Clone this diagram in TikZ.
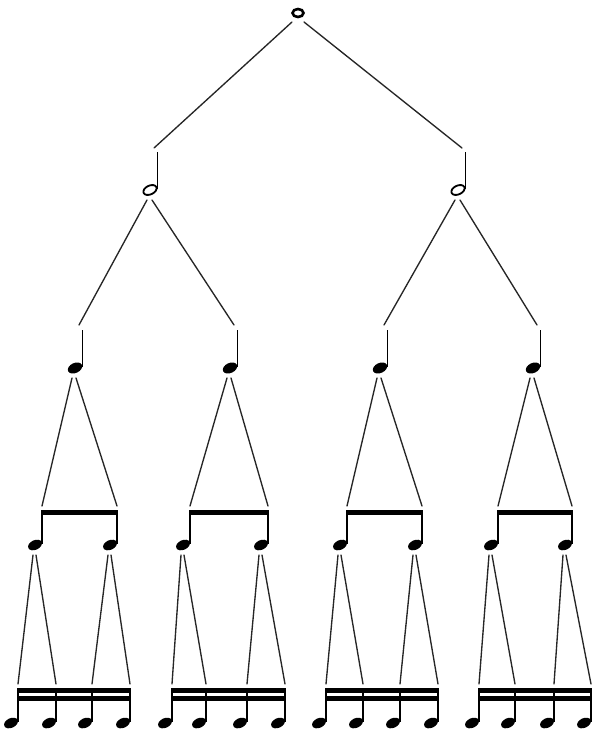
\documentclass[tikz,border=0pt]{standalone}
\begin{document}
\begin{tikzpicture}[x=1pt,y=-1pt,
  conn/.style={line width=1.35pt, draw=black!85, line cap=round},
  stemline/.style={line width=1.8pt},
  wholenote/.pic={
    \draw[line width=2.6pt] (0,0) ellipse (5.5pt and 4pt);
    \coordinate (-bl) at (-6,9);
    \coordinate (-br) at (6,9);
  },
  halfnote/.pic={
    \draw[line width=1.8pt, rotate=25] (0,0) ellipse (7pt and 4.4pt);
    \draw[stemline] (7.5,-1) -- (7.5,-38);
    \coordinate (-tgt) at (4,-42);
    \coordinate (-bl) at (-3,10);
    \coordinate (-br) at (2,10);
  },
  quarternote/.pic={
    \fill[rotate=25] (0,0) ellipse (7.6pt and 5pt);
    \draw[stemline] (7.5,-1) -- (7.5,-38);
    \coordinate (-tgt) at (4,-43);
    \coordinate (-bl) at (-3,10);
    \coordinate (-br) at (1,10);
  },
  beamnote/.pic={
    \fill[rotate=25] (0,0) ellipse (7.3pt and 4.8pt);
    \draw[stemline] (7,-1) -- (7,-35);
    \coordinate (-top) at (7,-35);
    \coordinate (-tgt) at (7,-39);
    \coordinate (-bl) at (-2,10);
    \coordinate (-br) at (1,10);
  }]
\useasboundingbox (0,0) rectangle (598,733);

% whole and half notes
\pic (W) at (298,13) {wholenote};
\pic (H1) at (150,190) {halfnote};
\pic (H2) at (458,190) {halfnote};

% quarter notes
\pic (Q1) at (75,368) {quarternote};
\pic (Q2) at (230,368) {quarternote};
\pic (Q3) at (380,368) {quarternote};
\pic (Q4) at (533,368) {quarternote};

% eighth pairs
\foreach \g/\xa/\xb in {1/42/117,2/190/268,3/347/422,4/498/572} {
  \pic (E\g a) at (\xa-7,545) {beamnote};
  \pic (E\g b) at (\xb-7,545) {beamnote};
  \fill ([xshift=-0.9pt]E\g a-top) rectangle ([shift={(0.9,4.5)}]E\g b-top);
}

% sixteenth groups
\foreach \g/\xa/\xb/\xc/\xd in {1/18/56/92/130,2/172/206/247/285,3/326/363/400/438,4/479/515/554/591} {
  \pic (S\g a) at (\xa-7,723) {beamnote};
  \pic (S\g b) at (\xb-7,723) {beamnote};
  \pic (S\g c) at (\xc-7,723) {beamnote};
  \pic (S\g d) at (\xd-7,723) {beamnote};
  \fill ([xshift=-0.9pt]S\g a-top) rectangle ([shift={(0.9,4.5)}]S\g d-top);
  \fill ([shift={(-0.9,8)}]S\g a-top) rectangle ([shift={(0.9,12.5)}]S\g d-top);
}

% connectors
\draw[conn] (W-bl) -- (H1-tgt);
\draw[conn] (W-br) -- (H2-tgt);
\draw[conn] (H1-bl) -- (Q1-tgt);
\draw[conn] (H1-br) -- (Q2-tgt);
\draw[conn] (H2-bl) -- (Q3-tgt);
\draw[conn] (H2-br) -- (Q4-tgt);
\foreach \g in {1,2,3,4} {
  \draw[conn] (Q\g-bl) -- (E\g a-tgt);
  \draw[conn] (Q\g-br) -- (E\g b-tgt);
  \draw[conn] (E\g a-bl) -- (S\g a-tgt);
  \draw[conn] (E\g a-br) -- (S\g b-tgt);
  \draw[conn] (E\g b-bl) -- (S\g c-tgt);
  \draw[conn] (E\g b-br) -- (S\g d-tgt);
}
\end{tikzpicture}
\end{document}
